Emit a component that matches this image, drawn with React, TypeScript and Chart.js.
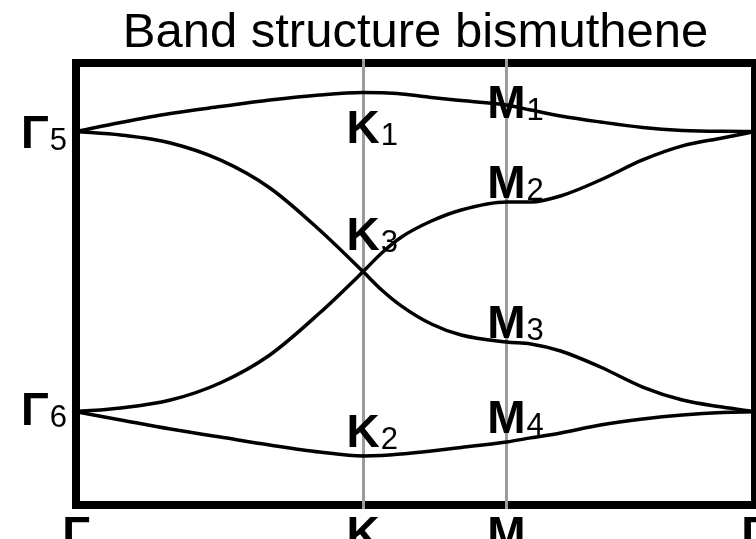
import React, { useEffect, useRef } from 'react';
import { Chart, registerables } from 'chart.js';

Chart.register(...registerables);

// Path length along Γ–K–M–Γ, with |ΓM| = 1
const kPath = [0, 0.18, 0.38, 0.58, 0.78, 0.98, 1.155, 1.23, 1.31, 1.43, 1.55, 1.732, 1.83, 1.95, 2.11, 2.28, 2.44, 2.6, 2.732];
const kTicks = [0, 1.155, 1.732, 2.732];
const kTickLabels = ['Γ', 'K', 'M', 'Γ'];

// Energies (arb. units) of the four bands along the path
const bandUpper = [1.0, 1.064, 1.128, 1.178, 1.225, 1.261, 1.278, 1.276, 1.268, 1.243, 1.221, 1.189, 1.153, 1.111, 1.068, 1.029, 1.008, 1.001, 1.0];
const bandDown = [1.0, 0.975, 0.918, 0.797, 0.597, 0.297, 0, -0.131, -0.246, -0.374, -0.453, -0.503, -0.517, -0.567, -0.681, -0.824, -0.917, -0.967, -1.0];
const bandUp = [-1.0, -0.974, -0.917, -0.795, -0.595, -0.296, 0, 0.133, 0.247, 0.361, 0.44, 0.497, 0.497, 0.54, 0.654, 0.797, 0.897, 0.954, 1.0];
const bandLower = [-1.0, -1.059, -1.124, -1.181, -1.238, -1.288, -1.316, -1.313, -1.302, -1.28, -1.255, -1.216, -1.187, -1.152, -1.095, -1.052, -1.023, -1.005, -1.0];

const bands = [bandUpper, bandDown, bandUp, bandLower];

// Irreducible-representation labels: symbol, subscript, path index, band
const repSymbols = ['Γ', 'Γ', 'K', 'K', 'K', 'M', 'M', 'M', 'M'];
const repSubscripts = ['5', '6', '1', '3', '2', '1', '2', '3', '4'];
const repPathIndex = [0, 0, 6, 6, 6, 11, 11, 11, 11];
const repBand = [0, 3, 0, 1, 3, 0, 2, 1, 3];

const titleText = 'Band structure bismuthene';

// Baseline offset (px) of each label relative to its band point
const repBaselineShift = [16, 13, 50, -22, -9, 13, -4, -4, -9];

const FONT = '"Liberation Sans", Arial, Helvetica, sans-serif';

const bandDecor = {
  id: 'bandDecor',
  beforeDatasetsDraw(chart: any) {
    const { ctx, chartArea: a, scales } = chart;
    const x = scales.x;
    ctx.save();
    ctx.strokeStyle = '#000';
    ctx.lineWidth = 8;
    ctx.strokeRect(a.left, a.top, a.right - a.left, a.bottom - a.top);
    ctx.strokeStyle = '#9c9c9c';
    ctx.lineWidth = 3;
    kTicks.slice(1, -1).forEach((v) => {
      const px = Math.round(x.getPixelForValue(v)) + 0.5;
      ctx.beginPath();
      ctx.moveTo(px, a.top - 4);
      ctx.lineTo(px, a.bottom + 4);
      ctx.stroke();
    });
    ctx.restore();
  },
  afterDatasetsDraw(chart: any) {
    const { ctx, chartArea: a, scales } = chart;
    const x = scales.x;
    const y = scales.y;
    const mainFont = `bold 46px ${FONT}`;
    const subFont = `31px ${FONT}`;
    ctx.save();
    ctx.fillStyle = '#000';
    ctx.textBaseline = 'alphabetic';

    // title
    ctx.font = `49px ${FONT}`;
    ctx.textAlign = 'center';
    ctx.fillText(titleText, (a.left + a.right) / 2, 47);

    // symmetry point labels
    repSymbols.forEach((sym, i) => {
      const k = kPath[repPathIndex[i]];
      const e = bands[repBand[i]][repPathIndex[i]];
      const px = x.getPixelForValue(k);
      const base = y.getPixelForValue(e) + repBaselineShift[i];
      ctx.font = mainFont;
      const mw = ctx.measureText(sym).width;
      ctx.font = subFont;
      const sw = ctx.measureText(repSubscripts[i]).width;
      let left: number;
      if (repPathIndex[i] === 0) {
        left = a.left - 10 - mw - sw;
      } else {
        left = px - mw / 2;
      }
      ctx.textAlign = 'left';
      ctx.font = mainFont;
      ctx.fillText(sym, left, base);
      ctx.font = subFont;
      ctx.fillText(repSubscripts[i], left + mw + 1, base + 2);
    });

    // k-path tick labels
    ctx.font = mainFont;
    ctx.textAlign = 'center';
    kTicks.forEach((v, i) => {
      ctx.fillText(kTickLabels[i], x.getPixelForValue(v), a.bottom + 44);
    });
    ctx.restore();
  },
};

export default function App() {
  const canvasRef = useRef<HTMLCanvasElement | null>(null);

  useEffect(() => {
    const canvas = canvasRef.current;
    if (!canvas) return;
    const chart = new Chart(canvas, {
      type: 'line',
      data: {
        datasets: bands.map((b, i) => ({
          label: `band ${i + 1}`,
          data: kPath.map((k, j) => ({ x: k, y: b[j] })),
          borderColor: '#000',
          borderWidth: 3.5,
          pointRadius: 0,
          fill: false,
          cubicInterpolationMode: 'monotone' as const,
        })),
      },
      options: {
        responsive: false,
        animation: false,
        devicePixelRatio: 1,
        layout: { padding: { left: 76, right: 1, top: 63, bottom: 34 } },
        plugins: {
          legend: { display: false },
          title: { display: false },
          tooltip: { enabled: false },
        },
        scales: {
          x: { type: 'linear', min: 0, max: 2.732, display: false },
          y: { type: 'linear', min: -1.666, max: 1.489, display: false },
        },
      },
      plugins: [bandDecor],
    });
    return () => chart.destroy();
  }, []);

  return (
    <div style={{ position: 'fixed', left: 0, top: 0, width: 756, height: 539, background: '#fff' }}>
      <canvas ref={canvasRef} width={756} height={539} />
    </div>
  );
}
